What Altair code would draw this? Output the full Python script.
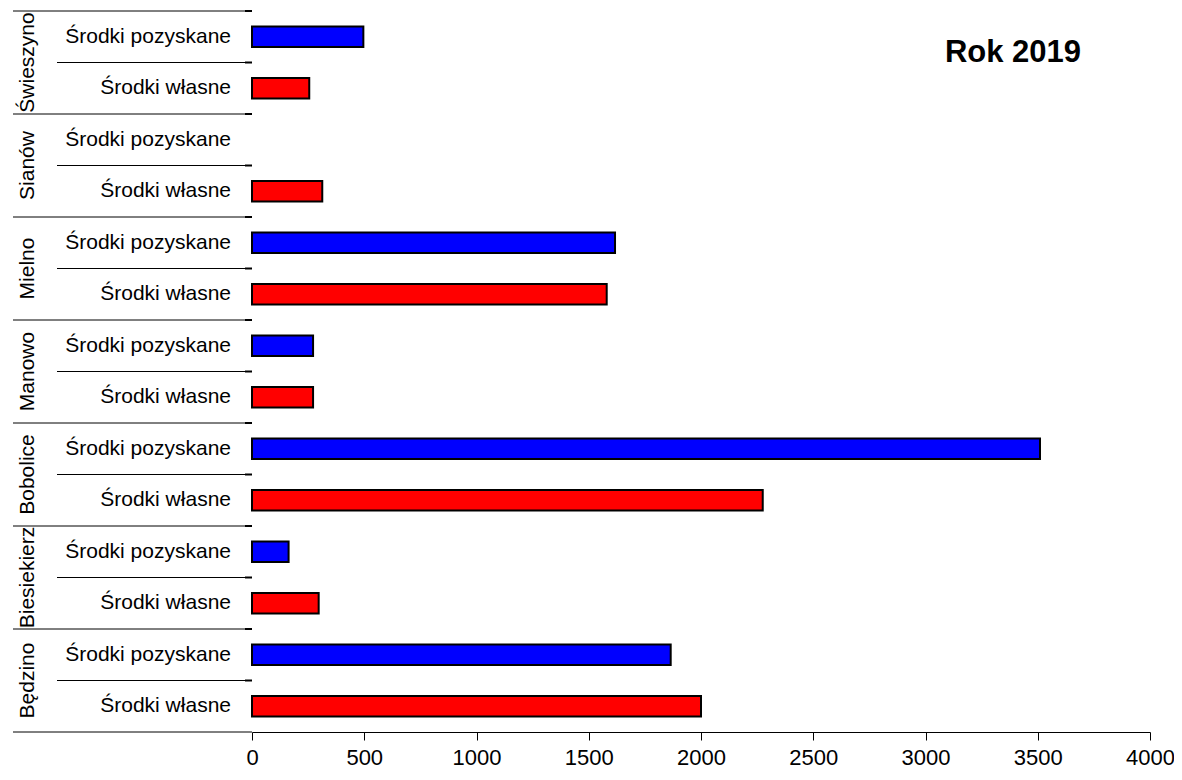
import altair as alt
import pandas as pd

gminy = ["Świeszyno", "Sianów", "Mielno", "Manowo", "Bobolice", "Biesiekierz", "Będzino"]
rodzaje = ["Środki pozyskane", "Środki własne"]
pozyskane = [496, None, 1617, 272, 3510, 163, 1865]
wlasne = [255, 313, 1580, 272, 2275, 297, 2000]
x_ticks = [0, 500, 1000, 1500, 2000, 2500, 3000, 3500, 4000]
title_text = ["Rok 2019"]
colors = ["#0000FF", "#FF0000"]

rows = []
for g, p, w in zip(gminy, pozyskane, wlasne):
    rows.append({"gmina": g, "rodzaj": rodzaje[0], "row": g + "|" + rodzaje[0], "value": p})
    rows.append({"gmina": g, "rodzaj": rodzaje[1], "row": g + "|" + rodzaje[1], "value": w})
df = pd.DataFrame(rows)
order = list(df["row"])

FONT = "Liberation Sans"
W, H = 898, 721
yscale = alt.Scale(domain=order, paddingInner=0, paddingOuter=0)

bars = alt.Chart(df).transform_filter(
    "isValid(datum.value) && isFinite(datum.value)"
).mark_bar(
    height=alt.RelativeBandSize(0.4), stroke="black", strokeWidth=2
).encode(
    x=alt.X("value:Q", scale=alt.Scale(domain=[0, 4000], nice=False),
            axis=alt.Axis(values=x_ticks, title=None, grid=False, labelFontSize=22,
                          labelFont=FONT, labelColor="black", tickSize=8,
                          tickColor="black", domainColor="black", labelPadding=7,
                          format="d", labelFlush=False)),
    y=alt.Y("row:N", scale=yscale, sort=None,
            axis=alt.Axis(title=None, labels=False, ticks=False, domainColor="black")),
    color=alt.Color("rodzaj:N", scale=alt.Scale(domain=rodzaje, range=colors), legend=None),
)

sub_labels = alt.Chart(df).mark_text(
    align="right", baseline="middle", fontSize=21, font=FONT, color="black"
).encode(
    y=alt.Y("row:N", scale=yscale, sort=None, axis=None),
    x=alt.value(-21),
    text="rodzaj:N",
)

grp_lines = alt.Chart(df).transform_filter(
    alt.datum.rodzaj == rodzaje[0]
).mark_rule(color="black", strokeWidth=1).encode(
    y=alt.Y("row:N", scale=yscale, sort=None, bandPosition=0, axis=None),
    x=alt.value(-239), x2=alt.value(0),
)

sub_lines = alt.Chart(df).transform_filter(
    alt.datum.rodzaj == rodzaje[1]
).mark_rule(color="black", strokeWidth=1).encode(
    y=alt.Y("row:N", scale=yscale, sort=None, bandPosition=0, axis=None),
    x=alt.value(-195), x2=alt.value(0),
)

ticks = alt.Chart(df).mark_rule(color="black", strokeWidth=2).encode(
    y=alt.Y("row:N", scale=yscale, sort=None, bandPosition=0, axis=None),
    x=alt.value(-7), x2=alt.value(0),
)

bottom_line = alt.Chart(pd.DataFrame({"a": [0]})).mark_rule(color="black", strokeWidth=1).encode(
    y=alt.value(H), x=alt.value(-239), x2=alt.value(0),
)

grp_labels = alt.Chart(df).transform_filter(
    alt.datum.rodzaj == rodzaje[0]
).mark_text(angle=270, align="center", baseline="alphabetic", fontSize=21,
            font=FONT, color="black").encode(
    y=alt.Y("row:N", scale=yscale, sort=None, bandPosition=1, axis=None),
    x=alt.value(-218),
    text="gmina:N",
)

title = alt.Chart(pd.DataFrame({"t": title_text})).mark_text(
    align="center", baseline="alphabetic", fontSize=31, fontWeight="bold",
    font=FONT, color="black"
).encode(text="t:N", x=alt.value(761), y=alt.value(51))

chart = alt.layer(bars, sub_labels, grp_lines, sub_lines, ticks, bottom_line, grp_labels, title).properties(
    width=W, height=H,
    autosize=alt.AutoSizeParams(type="none"),
    padding={"left": 244, "top": 3, "right": 24, "bottom": 40},
).configure(font=FONT).configure_view(stroke=None, strokeWidth=0)

chart.save("out.html", embed_options={"renderer": "svg", "actions": False})
